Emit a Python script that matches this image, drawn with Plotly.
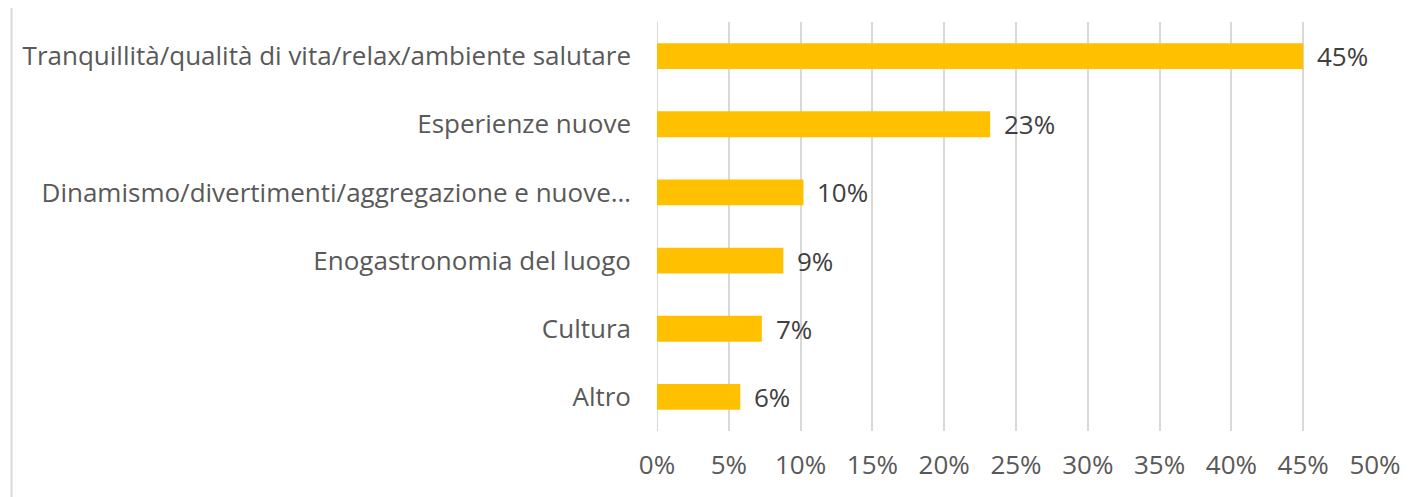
import plotly.graph_objects as go

categories = [
    "Tranquillità/qualità di vita/relax/ambiente salutare",
    "Esperienze nuove",
    "Dinamismo/divertimenti/aggregazione e nuove…",
    "Enogastronomia del luogo",
    "Cultura",
    "Altro",
]
values = [45.0, 23.2, 10.2, 8.8, 7.3, 5.8]
value_labels = ["45%", "23%", "10%", "9%", "7%", "6%"]
tick_vals = [0, 5, 10, 15, 20, 25, 30, 35, 40, 45, 50]
tick_text = ["0%", "5%", "10%", "15%", "20%", "25%", "30%", "35%", "40%", "45%", "50%"]

FONT = "Open Sans"
FS = 26

fig = go.Figure(go.Bar(
    x=values,
    y=categories,
    orientation="h",
    marker=dict(color="#FFC000", line=dict(width=0)),
    width=0.38,
    hoverinfo="skip",
))

annotations = [
    dict(x=v, y=c, xref="x", yref="y", text=t, showarrow=False,
         xanchor="left", yanchor="middle", xshift=12,
         font=dict(family=FONT, size=FS, color="#404040"))
    for v, c, t in zip(values, categories, value_labels)
]

fig.update_layout(
    width=1405,
    height=489,
    margin=dict(l=649, r=35, t=14, b=66),
    paper_bgcolor="white",
    plot_bgcolor="white",
    showlegend=False,
    font=dict(family=FONT, color="#595959"),
    annotations=annotations,
    xaxis=dict(
        range=[0, 50],
        tickvals=tick_vals,
        ticktext=tick_text,
        showgrid=True,
        gridcolor="#D9D9D9",
        gridwidth=2,
        zeroline=False,
        showline=False,
        ticks="",
        tickfont=dict(family=FONT, size=FS, color="#595959"),
        ticklabelstandoff=16,
    ),
    yaxis=dict(
        autorange="reversed",
        showgrid=False,
        zeroline=False,
        showline=False,
        ticks="",
        ticklabelstandoff=25,
        tickfont=dict(family=FONT, size=FS, color="#595959"),
    ),
    shapes=[
        dict(type="line", xref="x", yref="paper", x0=0, x1=0, y0=0, y1=1,
             line=dict(color="#D9D9D9", width=2), layer="below"),
        dict(type="line", xref="paper", yref="paper", x0=-0.899, x1=-0.899,
             y0=-0.165, y1=1.034, line=dict(color="#D9D9D9", width=2)),
    ],
)

fig.write_html("out.html")
